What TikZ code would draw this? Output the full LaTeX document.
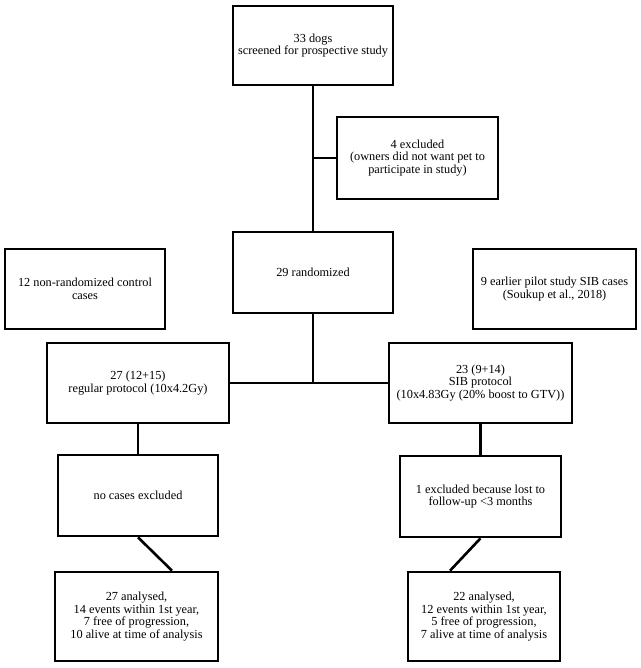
\documentclass[tikz,border=0pt]{standalone}
\usepackage{fontspec}
\setmainfont{Liberation Serif}
\usetikzlibrary{calc}
\begin{document}
\begin{tikzpicture}[x=1pt,y=-1pt,
  box/.style={draw=black, line width=2.6pt, align=center, inner sep=2pt,
    font=\fontsize{12.3}{12.6}\selectfont},
  conn/.style={draw=black, line width=2.6pt}]
\fill[white] (0,0) rectangle (640,668);
\useasboundingbox (0,0) rectangle (640,668);

\node[box, minimum width=160pt, minimum height=79pt] (b1) at (313,45.5) {33 dogs\\screened for prospective study};
\node[box, minimum width=161pt, minimum height=82pt] (b4) at (417.5,158) {4 excluded\\(owners did not want pet to\\participate in study)};
\node[box, minimum width=160pt, minimum height=81pt] (b29) at (313,272.5) {29 randomized};
\node[box, minimum width=160pt, minimum height=80pt] (b12) at (85,289) {12 non-randomized control\\cases};
\node[box, minimum width=163pt, minimum height=80pt] (b9) at (554.5,289) {9 earlier pilot study SIB cases\\(Soukup et al., 2018)};
\node[box, minimum width=182pt, minimum height=80pt] (b27) at (138,383) {27 (12+15)\\regular protocol (10x4.2Gy)};
\node[box, minimum width=183pt, minimum height=80pt] (b23) at (480.5,383) {23 (9+14)\\SIB protocol\\(10x4.83Gy (20\% boost to GTV))};
\node[box, minimum width=160pt, minimum height=81pt] (nc) at (138,495.5) {no cases excluded};
\node[box, minimum width=161pt, minimum height=81pt] (ex1) at (480.5,496.5) {1 excluded because lost to\\follow-up <3 months};
\node[box, minimum width=163pt, minimum height=89pt] (a27) at (136.5,616.5) {27 analysed,\\14 events within 1st year,\\7 free of progression,\\10 alive at time of analysis};
\node[box, minimum width=152pt, minimum height=89pt] (a22) at (484,616.5) {22 analysed,\\12 events within 1st year,\\5 free of progression,\\7 alive at time of analysis};

\draw[conn] (b1.south) -- (b29.north);
\draw[conn] (b4.west) -- (b4.west -| b1.south);
\draw[conn] (b29.south) -- (b29.south |- b27.east);
\draw[conn] (b27.east) -- (b23.west);
\draw[conn] (b27.south) -- (nc.north);
\draw[conn] (b23.south) -- (ex1.north);
\draw[conn] (nc.south) -- ([xshift=35.5pt]a27.north);
\draw[conn] (ex1.south) -- ([xshift=-34pt]a22.north);
\end{tikzpicture}
\end{document}
